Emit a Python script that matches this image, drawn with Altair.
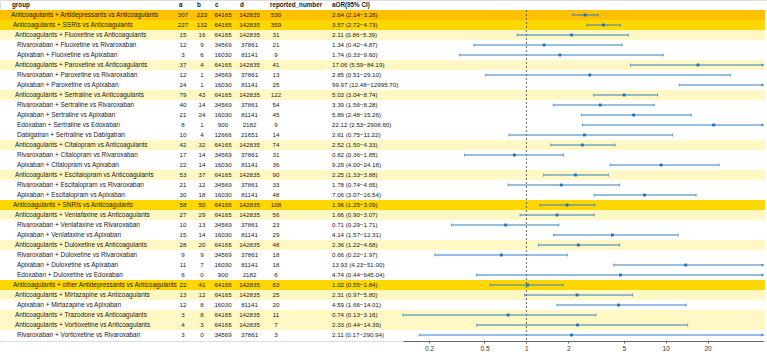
import altair as alt
import pandas as pd

groups = [
    "Anticoagulants + Antidepressants vs Anticoagulants",
    "Anticoagulants + SSRIs vs Anticoagulants",
    "Anticoagulants + Fluoxetine vs Anticoagulants",
    "Rivaroxaban + Fluoxetine vs Rivaroxaban",
    "Apixaban + Fluoxetine vs Apixaban",
    "Anticoagulants + Paroxetine vs Anticoagulants",
    "Rivaroxaban + Paroxetine vs Rivaroxaban",
    "Apixaban + Paroxetine vs Apixaban",
    "Anticoagulants + Sertraline vs Anticoagulants",
    "Rivaroxaban + Sertraline vs Rivaroxaban",
    "Apixaban + Sertraline vs Apixaban",
    "Edoxaban + Sertraline vs Edoxaban",
    "Dabigatran + Sertraline vs Dabigatran",
    "Anticoagulants + Citalopram vs Anticoagulants",
    "Rivaroxaban + Citalopram vs Rivaroxaban",
    "Apixaban + Citalopram vs Apixaban",
    "Anticoagulants + Escitalopram vs Anticoagulants",
    "Rivaroxaban + Escitalopram vs Rivaroxaban",
    "Apixaban + Escitalopram vs Apixaban",
    "Anticoagulants + SNRIs vs Anticoagulants",
    "Anticoagulants + Venlafaxine vs Anticoagulants",
    "Rivaroxaban + Venlafaxine vs Rivaroxaban",
    "Apixaban + Venlafaxine vs Apixaban",
    "Anticoagulants + Duloxetine vs Anticoagulants",
    "Rivaroxaban + Duloxetine vs Rivaroxaban",
    "Apixaban + Duloxetine vs Apixaban",
    "Edoxaban + Duloxetine vs Edoxaban",
    "Anticoagulants + other Antidepressants vs Anticoagulants",
    "Anticoagulants + Mirtazapine vs Anticoagulants",
    "Apixaban + Mirtazapine vs Apixaban",
    "Anticoagulants + Trazodone vs Anticoagulants",
    "Anticoagulants + Vortioxetine vs Anticoagulants",
    "Rivaroxaban + Vortioxetine vs Rivaroxaban",
]
levels = [0, 1, 2, 3, 3, 2, 3, 3, 2, 3, 3, 3, 3, 2, 3, 3, 2, 3, 3,
          1, 2, 3, 3, 2, 3, 3, 3, 1, 2, 3, 2, 2, 3]
a_vals = [307, 227, 15, 12, 3, 37, 12, 24, 79, 40, 21, 8, 10, 42, 17, 22, 53, 21, 30,
          58, 27, 10, 15, 28, 9, 11, 6, 22, 13, 12, 3, 4, 3]
b_vals = [223, 132, 16, 9, 6, 4, 1, 1, 43, 14, 24, 1, 4, 32, 14, 14, 37, 12, 18,
          50, 29, 13, 14, 20, 9, 7, 0, 41, 12, 8, 8, 3, 0]
c_vals = [64165, 64165, 64165, 34569, 16030, 64165, 34569, 16030, 64165, 34569, 16030, 900, 12666,
          64165, 34569, 16030, 64165, 34569, 16030, 64165, 64165, 34569, 16030, 64165, 34569, 16030,
          900, 64165, 64165, 16030, 64165, 64165, 34569]
d_vals = [142835, 142835, 142835, 37861, 81141, 142835, 37861, 81141, 142835, 37861, 81141, 2182, 21651,
          142835, 37861, 81141, 142835, 37861, 81141, 142835, 142835, 37861, 81141, 142835, 37861, 81141,
          2182, 142835, 142835, 81141, 142835, 142835, 37861]
reported = [530, 359, 31, 21, 9, 41, 13, 25, 122, 54, 45, 9, 14, 74, 31, 36, 90, 33, 48,
            108, 56, 23, 29, 48, 18, 18, 6, 63, 25, 20, 11, 7, 3]
aor = [2.64, 3.57, 2.11, 1.34, 1.74, 17.06, 2.85, 99.97, 5.03, 3.39, 5.89, 22.12, 2.61,
       2.52, 0.82, 9.29, 2.25, 1.78, 7.06, 1.96, 1.66, 0.71, 4.14, 2.36, 0.66, 13.93, 4.74,
       1.02, 2.31, 4.59, 0.74, 2.33, 2.11]
lower = [2.14, 2.72, 0.86, 0.42, 0.33, 5.59, 0.51, 12.48, 3.04, 1.56, 2.48, 2.53, 0.75,
         1.50, 0.36, 4.00, 1.33, 0.74, 3.07, 1.25, 0.90, 0.29, 1.57, 1.22, 0.22, 4.23, 0.44,
         0.55, 0.97, 1.66, 0.13, 0.44, 0.17]
upper = [3.28, 4.73, 5.39, 4.87, 9.60, 84.19, 29.10, 12995.70, 8.74, 8.28, 15.26, 2908.60, 11.22,
         4.33, 1.85, 24.18, 3.88, 4.65, 16.54, 3.09, 3.07, 1.71, 12.31, 4.68, 1.97, 51.00, 645.04,
         1.84, 5.80, 14.01, 3.16, 14.39, 290.94]
headers = ["group", "a", "b", "c", "d", "reported_number", "aOR(95% CI)"]
x_ticks = [0.2, 0.5, 1, 2, 5, 10, 20]
x_domain = [0.13, 50]

df = pd.DataFrame({
    "row": list(range(1, len(groups) + 1)),
    "group": groups, "level": levels,
    "a": a_vals, "b": b_vals, "c": c_vals, "d": d_vals,
    "reported_number": reported,
    "aor": aor, "lo": lower, "hi": upper,
})
df["ci"] = [f"{o:.2f} ({l:.2f}\u2212{h:.2f})" for o, l, h in zip(aor, lower, upper)]

FONT = "Liberation Sans"
FS = 6.2
FS_GROUP = 6.45
FS_HDR = 6.3
W, H = 767, 341
yscale = alt.Scale(domain=[-0.5, 33.6], reverse=True, nice=False, zero=False)
ycol = alt.Y("row:Q", scale=yscale, axis=None)
xscale = alt.Scale(type="log", domain=x_domain, range=[403, 763], clamp=True, nice=False)

base = alt.Chart(df)

bands = base.mark_rect().transform_calculate(
    y0="datum.row - 0.5", y1="datum.row + 0.5"
).encode(
    x=alt.value(0), x2=alt.value(765),
    y=alt.Y("y0:Q", scale=yscale, axis=None),
    y2="y1:Q",
    color=alt.Color("level:O", scale=alt.Scale(domain=[0, 1, 2, 3],
                    range=["#FFC000", "#FFD700", "#FFF7C4", "#FFFFFF"]), legend=None),
)

layers = [bands]

indent = {0: 11, 1: 13, 2: 15, 3: 17}
for lv, xp in indent.items():
    layers.append(
        base.transform_filter(f"datum.level == {lv}").mark_text(
            align="left", baseline="middle", font=FONT, fontSize=FS_GROUP, color="#1a1a1a"
        ).encode(x=alt.value(xp), y=ycol, text="group:N")
    )

num_cols = {"a": 183, "b": 202, "c": 223, "d": 249.5, "reported_number": 276}
for col, xp in num_cols.items():
    layers.append(
        base.mark_text(align="center", baseline="middle", font=FONT, fontSize=FS, color="#1a1a1a")
        .encode(x=alt.value(xp), y=ycol, text=f"{col}:N")
    )
layers.append(
    base.mark_text(align="left", baseline="middle", font=FONT, fontSize=FS, color="#1a1a1a")
    .encode(x=alt.value(332), y=ycol, text="ci:N")
)

hdr_df = pd.DataFrame({"name": headers, "row": [0] * len(headers)})
hdr_x = [12, 179, 197, 215, 240, 270, 332]
for name, xp in zip(headers, hdr_x):
    layers.append(
        alt.Chart(hdr_df).transform_filter(alt.datum.name == name).mark_text(
            align="left", baseline="middle", font=FONT, fontSize=FS_HDR, fontWeight="bold", color="#1a1a1a"
        ).encode(x=alt.value(xp), y=ycol, text="name:N")
    )

refline = alt.Chart(pd.DataFrame({"v": [1], "t": [0.5], "b": [33.6]})).mark_rule(
    color="#555555", strokeDash=[2, 2], strokeWidth=0.9
).encode(
    x=alt.X("v:Q", scale=xscale,
            axis=alt.Axis(values=x_ticks, format="~g", grid=False, title=None, tickSize=2,
                          labelFont=FONT, labelFontSize=6.5, labelColor="#333333",
                          tickColor="#666666", domainColor="#666666", labelPadding=2)),
    y=alt.Y("t:Q", scale=yscale, axis=None),
    y2="b:Q",
)
layers.append(refline)

BLUE = "#2f7fc1"
ci_rule = base.mark_rule(color=BLUE, strokeWidth=1).encode(
    x=alt.X("lo:Q", scale=xscale), x2="hi:Q", y=ycol)
cap_lo = base.transform_filter(f"datum.lo >= {x_domain[0]}").mark_tick(
    orient="vertical", size=3, thickness=1, color=BLUE).encode(x=alt.X("lo:Q", scale=xscale), y=ycol)
cap_hi = base.transform_filter(f"datum.hi <= {x_domain[1]}").mark_tick(
    orient="vertical", size=3, thickness=1, color=BLUE).encode(x=alt.X("hi:Q", scale=xscale), y=ycol)
arrow = base.transform_filter(f"datum.hi > {x_domain[1]}").mark_point(
    shape="triangle-right", filled=True, size=10, color=BLUE, opacity=1).encode(
    x=alt.X("hi:Q", scale=xscale), y=ycol)
pts = base.transform_filter(f"datum.aor <= {x_domain[1]}").mark_square(
    size=8, color="#1f6fb4", opacity=1).encode(x=alt.X("aor:Q", scale=xscale), y=ycol)
layers += [ci_rule, cap_lo, cap_hi, arrow, pts]

chart = alt.layer(*layers).properties(
    width=W, height=H,
    padding={"left": 0, "top": 0, "right": 0, "bottom": 13},
    autosize=alt.AutoSizeParams(type="none"),
).configure_view(strokeWidth=0).configure(background="white")

chart.save("out.html", embed_options={"renderer": "svg", "actions": False})
